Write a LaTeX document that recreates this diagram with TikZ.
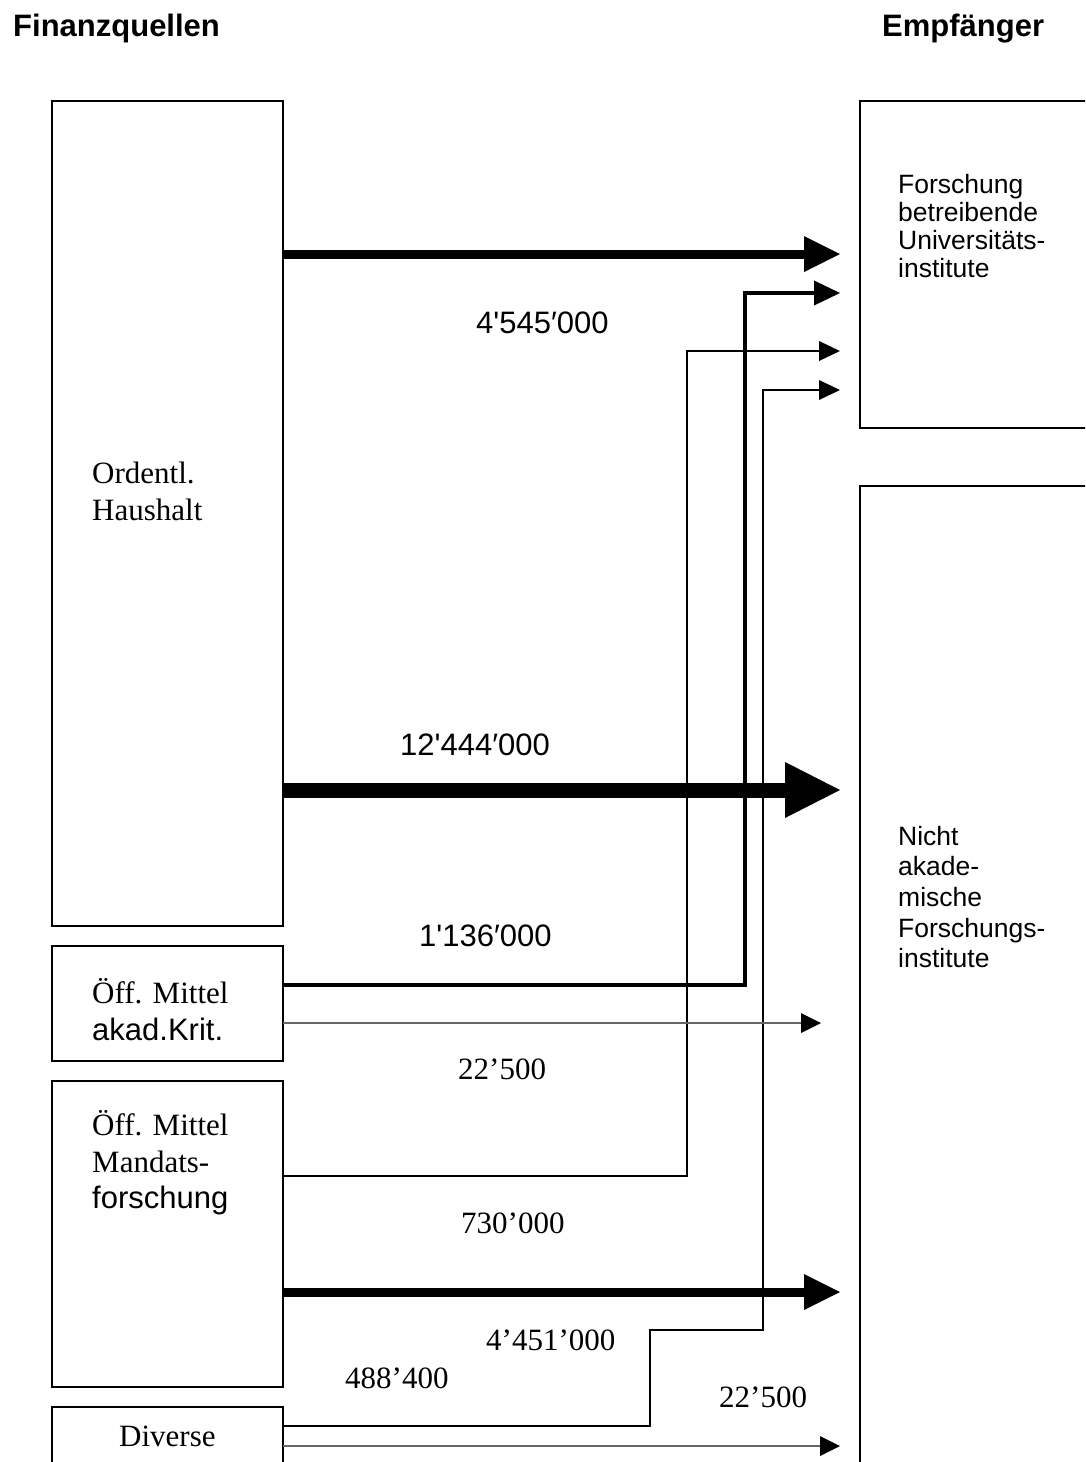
\documentclass[tikz,border=0pt]{standalone}
\usepackage{fontspec}
\setmainfont{Liberation Serif}
\setsansfont{Liberation Sans}
\usetikzlibrary{arrows.meta}
\newcommand\strq{\XeTeXglyph\XeTeXcharglyph"27\relax}
\tikzset{
  srcbox/.style={draw, line width=1.8pt, inner sep=0pt, outer sep=0pt, anchor=north west},
  flowA/.style={line width=9pt, -{Triangle[length=36pt,width=36pt,line width=0pt]}},
  flowXL/.style={line width=15pt, -{Triangle[length=55pt,width=56pt,line width=0pt]}},
  flowM/.style={line width=4pt, line join=miter, -{Triangle[length=26pt,width=25pt,line width=0pt]}},
  flowS/.style={line width=1.5pt, line join=miter, -{Triangle[length=21pt,width=20pt,line width=0pt]}},
  flowG/.style={line width=1.3pt, draw=black!60, -{Triangle[length=20pt,width=20pt,line width=0pt,color=black]}},
  rmtxt/.style={anchor=base west, inner sep=0pt, font=\rmfamily\fontsize{31pt}{37pt}\selectfont},
  sftxt/.style={anchor=base west, inner sep=0pt, font=\sffamily\fontsize{31pt}{37pt}\selectfont},
  smalltxt/.style={anchor=base west, inner sep=0pt, font=\sffamily\fontsize{26.5pt}{30pt}\selectfont},
  titletxt/.style={anchor=base west, inner sep=0pt, font=\sffamily\bfseries\fontsize{31pt}{37pt}\selectfont},
}
\begin{document}
\begin{tikzpicture}[x=1pt,y=-1pt]
\useasboundingbox (0,0) rectangle (1085,1462);
\fill[white] (0,0) rectangle (1085,1462);
\clip (0,0) rectangle (1085,1462);

% titles
\node[titletxt] (tq) at (13,36) {Finanzquellen};
\node[titletxt] (te) at (882,36) {Empfänger};

% source boxes
\node[srcbox, minimum width=231pt, minimum height=825pt] (oh) at (52,101) {};
\node[srcbox, minimum width=231pt, minimum height=115pt] (akad) at (52,946) {};
\node[srcbox, minimum width=231pt, minimum height=306pt] (mand) at (52,1081) {};
\node[srcbox, minimum width=231pt, minimum height=100pt] (div) at (52,1407) {};

% recipient boxes
\node[srcbox, minimum width=300pt, minimum height=327pt] (fu) at (860,101) {};
\node[srcbox, minimum width=300pt, minimum height=1100pt] (na) at (860,486) {};

% source texts
\node[rmtxt] (oh1) at (92,483) {Ordentl.};
\node[rmtxt] (oh2) at (92,520) {Haushalt};
\node[rmtxt] (ak1) at (92,1003) {Öff. Mittel};
\node[sftxt] (ak2) at (92,1040) {akad.Krit.};
\node[rmtxt] (md1) at (92,1135) {Öff. Mittel};
\node[rmtxt] (md2) at (92,1172) {Mandats-};
\node[sftxt] (md3) at (92,1208) {forschung};
\node[rmtxt] (dv1) at (119,1446) {Diverse};

% recipient texts
\node[smalltxt] (fu1) at (898,193) {Forschung};
\node[smalltxt] (fu2) at (898,221) {betreibende};
\node[smalltxt] (fu3) at (898,249) {Universitäts-};
\node[smalltxt] (fu4) at (898,277) {institute};
\node[smalltxt] (na1) at (898,845) {Nicht};
\node[smalltxt] (na2) at (898,875) {akade-};
\node[smalltxt] (na3) at (898,906) {mische};
\node[smalltxt] (na4) at (898,937) {Forschungs-};
\node[smalltxt] (na5) at (898,967) {institute};

% coordinates
\coordinate (t1) at (840,254);
\coordinate (t2) at (840,293);
\coordinate (b2) at (745,985);
\coordinate (t3) at (840,351);
\coordinate (b3) at (687,1176);
\coordinate (t4) at (840,390);
\coordinate (b4) at (650,1426);
\coordinate (b4u) at (763,1330);
\coordinate (t5) at (840,790);
\coordinate (t6) at (821,1023);
\coordinate (t7) at (840,1292);
\coordinate (t8) at (840,1446);

% flows
\draw[flowA] (oh.east |- t1) -- (t1);
\draw[flowXL] (oh.east |- t5) -- (t5);
\draw[flowS] (mand.east |- b3) -- (b3) |- (t3);
\draw[flowS] (div.east |- b4) -- (b4) |- (b4u) |- (t4);
\draw[flowM] (akad.east |- b2) -- (b2) |- (t2);
\draw[flowG] (akad.east |- t6) -- (t6);
\draw[flowA] (mand.east |- t7) -- (t7);
\draw[flowG] (div.east |- t8) -- (t8);

% amounts
\node[sftxt] (v1) at (476,333) {4\strq 545′000};
\node[sftxt] (v2) at (400,755) {12\strq 444′000};
\node[sftxt] (v3) at (419,946) {1\strq 136′000};
\node[rmtxt] (v4) at (458,1079) {22’500};
\node[rmtxt] (v5) at (461,1233) {730’000};
\node[rmtxt] (v6) at (486,1350) {4’451’000};
\node[rmtxt] (v7) at (345,1388) {488’400};
\node[rmtxt] (v8) at (719,1407) {22’500};
\end{tikzpicture}
\end{document}
